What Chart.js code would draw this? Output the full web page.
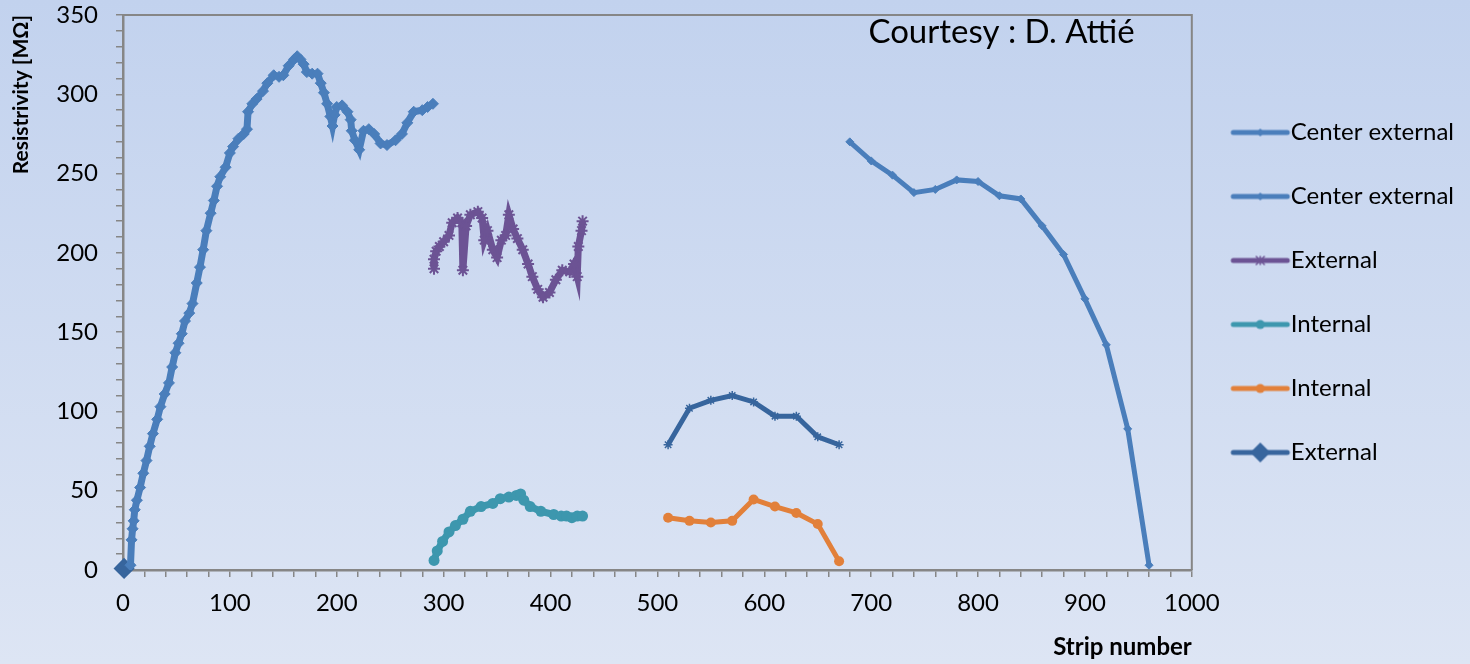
<!DOCTYPE html>
<html>
<head>
<meta charset="utf-8">
<script src="https://cdn.jsdelivr.net/npm/chart.js@4.4.1/dist/chart.umd.min.js"></script>
<style>
    html, body { margin: 0; padding: 0; overflow: hidden; }
    body { width: 1470px; height: 664px; background: linear-gradient(#c2d2ee, #dde5f4); }
    #wrap { position: relative; width: 1470px; height: 664px; }
</style>
</head>
<body>
<div id="wrap"><canvas id="graficoResistividade"></canvas></div>
<script>
// legend names, in legend order
const seriesNames = ['Center external', 'Center external', 'External', 'Internal', 'Internal', 'External'];

// Center external (strips 0-290)
const centerA_x = [7, 8, 9, 10, 11, 13, 16, 19, 22, 25, 28, 32, 35, 39, 43, 46, 49, 52, 55, 58, 62, 65, 69, 72, 75, 78, 82, 85, 88, 91, 96, 100, 103, 108, 113, 116, 117, 121, 125, 131, 135, 141, 146, 150, 155, 160, 163, 166, 169, 172, 177, 182, 185, 188, 191, 194, 196, 198, 200, 205, 210, 213, 214, 217, 221, 225, 230, 235, 241, 247, 255, 261, 266, 272, 280, 285, 290];
const centerA_y = [3, 19, 26, 31, 38, 44, 52, 61, 69, 78, 86, 95, 103, 111, 118, 128, 137, 143, 149, 157, 162, 168, 181, 191, 202, 214, 225, 233, 242, 248, 254, 263, 267, 272, 275, 278, 289, 294, 297, 302, 307, 312, 311, 312, 318, 322, 324, 322, 319, 314, 313, 313, 307, 301, 294, 286, 280, 287, 292, 293, 289, 284, 277, 271, 265, 277, 278, 275, 269, 268, 271, 275, 282, 289, 290, 292, 294];

// Center external (strips 680-960)
const centerB_x = [680, 700, 720, 740, 760, 780, 800, 820, 840, 860, 880, 900, 920, 940, 960];
const centerB_y = [270, 258, 249, 238, 240, 246, 245, 236, 234, 217, 199, 171, 142, 89, 3];

// External (purple)
const externalA_x = [291, 291, 293, 296, 300, 305, 308, 313, 317, 318, 321, 325, 332, 336, 338, 341, 346, 350, 354, 358, 361, 365, 369, 374, 379, 383, 388, 393, 399, 405, 411, 418, 422, 425, 426, 429, 430];
const externalA_y = [190, 196, 201, 204, 207, 211, 219, 222, 219, 189, 217, 224, 226, 222, 208, 214, 202, 197, 208, 211, 224, 215, 209, 202, 193, 185, 177, 172, 175, 183, 189, 188, 193, 185, 204, 214, 220];

// Internal (teal)
const internalA_x = [291, 294, 299, 305, 311, 318, 325, 335, 346, 353, 361, 368, 372, 375, 381, 391, 403, 410, 415, 420, 425, 430];
const internalA_y = [6, 12, 18, 24, 28, 32, 37, 40, 42, 45, 46, 47, 48, 44, 40, 37, 35, 34, 34, 33, 34, 34];

// Internal (orange)
const internalB_x = [510, 530, 550, 570, 590, 610, 630, 650, 670];
const internalB_y = [33, 31, 30, 31, 44.5, 40, 36, 29, 5.5];

// External (dark blue) - first point is the lone diamond at the origin
const externalB_x = [1, 510, 530, 550, 570, 590, 610, 630, 650, 670];
const externalB_y = [1, 79, 102, 107, 110, 106, 97, 97, 84, 79];

const xTicksMax = 1000;
const yTicksMax = 350;
const courtesyText = 'Courtesy : D. Attié';

const azul = '#4a7ebb';
const roxo = '#6c5394';
const verdeAgua = '#3d97ae';
const laranja = '#e2803a';
const azulEscuro = '#37659d';
const cinzaEixo = '#868686';

function toPoints(xs, ys) {
    return xs.map((x, i) => ({ x: x, y: ys[i] }));
}

// little line + marker pictures for the legend (Excel style)
function legendIcon(color, marker, size) {
    const c = document.createElement('canvas');
    c.width = 72;
    c.height = 24;
    const g = c.getContext('2d');
    const mx = 41;
    g.strokeStyle = color;
    g.fillStyle = color;
    g.lineWidth = 5;
    g.lineCap = 'round';
    g.beginPath();
    g.moveTo(14, 12);
    g.lineTo(68, 12);
    g.stroke();
    g.lineWidth = 1.5;
    if (marker === 'diamond') {
        g.beginPath();
        g.moveTo(mx, 12 - size);
        g.lineTo(mx + size, 12);
        g.lineTo(mx, 12 + size);
        g.lineTo(mx - size, 12);
        g.closePath();
        g.fill();
    } else if (marker === 'circle') {
        g.beginPath();
        g.arc(mx, 12, size, 0, Math.PI * 2);
        g.fill();
    } else if (marker === 'star') {
        g.beginPath();
        g.moveTo(mx - size, 12 - size); g.lineTo(mx + size, 12 + size);
        g.moveTo(mx + size, 12 - size); g.lineTo(mx - size, 12 + size);
        g.moveTo(mx, 12 - size); g.lineTo(mx, 12 + size);
        g.stroke();
    }
    return c;
}

const legendIcons = [
    legendIcon(azul, 'diamond', 4),
    legendIcon(azul, 'diamond', 4),
    legendIcon(roxo, 'star', 4),
    legendIcon(verdeAgua, 'circle', 4.5),
    legendIcon(laranja, 'circle', 4.5),
    legendIcon(azulEscuro, 'diamond', 10)
];

const legendColors = [azul, azul, roxo, verdeAgua, laranja, azulEscuro];

// frame on top and right of the plot area
const molduraPlugin = {
    id: 'moldura',
    beforeDatasetsDraw(chart) {
        const { ctx, chartArea } = chart;
        ctx.save();
        ctx.strokeStyle = cinzaEixo;
        ctx.lineWidth = 2;
        ctx.beginPath();
        ctx.moveTo(chartArea.left, chartArea.top);
        ctx.lineTo(chartArea.right, chartArea.top);
        ctx.lineTo(chartArea.right, chartArea.bottom);
        ctx.stroke();
        ctx.restore();
    }
};

const courtesyPlugin = {
    id: 'courtesy',
    afterDraw(chart) {
        const { ctx, scales } = chart;
        ctx.save();
        ctx.font = '33px Lato, "Open Sans", sans-serif';
        ctx.fillStyle = '#000';
        ctx.textAlign = 'center';
        ctx.textBaseline = 'middle';
        ctx.fillText(courtesyText, scales.x.getPixelForValue(822), scales.y.getPixelForValue(339));
        ctx.restore();
    }
};

Chart.defaults.font.family = 'Lato, "Open Sans", sans-serif';
Chart.defaults.color = '#000';

const ctx = document.getElementById('graficoResistividade').getContext('2d');
const grafico = new Chart(ctx, {
    type: 'scatter',
    data: {
        datasets: [
            {
                label: seriesNames[0],
                data: toPoints(centerA_x, centerA_y),
                showLine: true,
                borderColor: azul,
                backgroundColor: azul,
                borderWidth: 7,
                pointStyle: 'rectRot',
                pointRadius: 5.5,
                pointBorderWidth: 1
            },
            {
                label: seriesNames[1],
                data: toPoints(centerB_x, centerB_y),
                showLine: true,
                borderColor: azul,
                backgroundColor: azul,
                borderWidth: 5,
                pointStyle: 'rectRot',
                pointRadius: 4,
                pointBorderWidth: 1
            },
            {
                label: seriesNames[2],
                data: toPoints(externalA_x, externalA_y),
                showLine: true,
                borderColor: roxo,
                backgroundColor: roxo,
                borderWidth: 7,
                pointStyle: 'star',
                pointRadius: 6,
                pointBorderWidth: 2
            },
            {
                label: seriesNames[3],
                data: toPoints(internalA_x, internalA_y),
                showLine: true,
                borderColor: verdeAgua,
                backgroundColor: verdeAgua,
                borderWidth: 7,
                pointStyle: 'circle',
                pointRadius: 5.5,
                pointBorderWidth: 0
            },
            {
                label: seriesNames[4],
                data: toPoints(internalB_x, internalB_y),
                showLine: true,
                borderColor: laranja,
                backgroundColor: laranja,
                borderWidth: 5,
                pointStyle: 'circle',
                pointRadius: 5,
                pointBorderWidth: 0
            },
            {
                label: seriesNames[5],
                data: toPoints(externalB_x, externalB_y),
                showLine: true,
                clip: 12,
                borderColor: azulEscuro,
                backgroundColor: azulEscuro,
                borderWidth: 5,
                pointStyle: c => c.dataIndex === 0 ? 'rectRot' : 'star',
                pointRadius: c => c.dataIndex === 0 ? 9.5 : 4.5,
                pointBorderWidth: 1.5,
                segment: {
                    // no line from the origin diamond to the 510 strip
                    borderColor: s => s.p0DataIndex === 0 ? 'rgba(0,0,0,0)' : undefined
                }
            }
        ]
    },
    options: {
        responsive: true,
        maintainAspectRatio: false,
        animation: false,
        layout: {
            padding: { top: 0, right: 6, left: 0, bottom: 0 }
        },
        plugins: {
            tooltip: { enabled: false },
            legend: {
                position: 'right',
                fullSize: false,
                labels: {
                    usePointStyle: true,
                    pointStyleWidth: 47,
                    padding: 40,
                    font: { size: 24 },
                    color: '#000',
                    generateLabels: () => seriesNames.map((nome, i) => ({
                        text: nome,
                        fillStyle: legendColors[i],
                        strokeStyle: legendColors[i],
                        lineWidth: 0,
                        pointStyle: legendIcons[i],
                        hidden: false,
                        datasetIndex: i,
                        fontColor: '#000'
                    }))
                }
            }
        },
        scales: {
            x: {
                type: 'linear',
                min: 0,
                max: xTicksMax,
                afterFit: scale => { scale.height = 94; },
                border: { display: true, color: cinzaEixo, width: 2.5 },
                grid: { drawOnChartArea: false, drawTicks: true, tickLength: 7, color: cinzaEixo, lineWidth: 1.5 },
                ticks: {
                    stepSize: 20,
                    autoSkip: false,
                    maxRotation: 0,
                    padding: 12,
                    font: { size: 24 },
                    callback: v => v % 100 === 0 ? v : ''
                },
                title: {
                    display: true,
                    text: 'Strip number',
                    align: 'end',
                    font: { size: 24, weight: 'bold' },
                    padding: { top: 0, bottom: 2 }
                }
            },
            y: {
                type: 'linear',
                min: 0,
                max: yTicksMax,
                afterFit: scale => {
                    scale.width = 123;
                    scale.paddingTop = 15;
                    scale.paddingBottom = 0;
                },
                border: { display: true, color: cinzaEixo, width: 2.5 },
                grid: { drawOnChartArea: false, drawTicks: true, tickLength: 7, color: cinzaEixo, lineWidth: 1.5 },
                ticks: {
                    stepSize: 10,
                    autoSkip: false,
                    padding: 18,
                    font: { size: 24 },
                    callback: v => v % 50 === 0 ? v : ''
                },
                title: {
                    display: true,
                    text: 'Resistrivity [MΩ]',
                    align: 'end',
                    font: { size: 21, weight: 'bold' },
                    padding: { top: 9, bottom: 0 }
                }
            }
        }
    },
    plugins: [molduraPlugin, courtesyPlugin]
});
</script>
</body>
</html>
